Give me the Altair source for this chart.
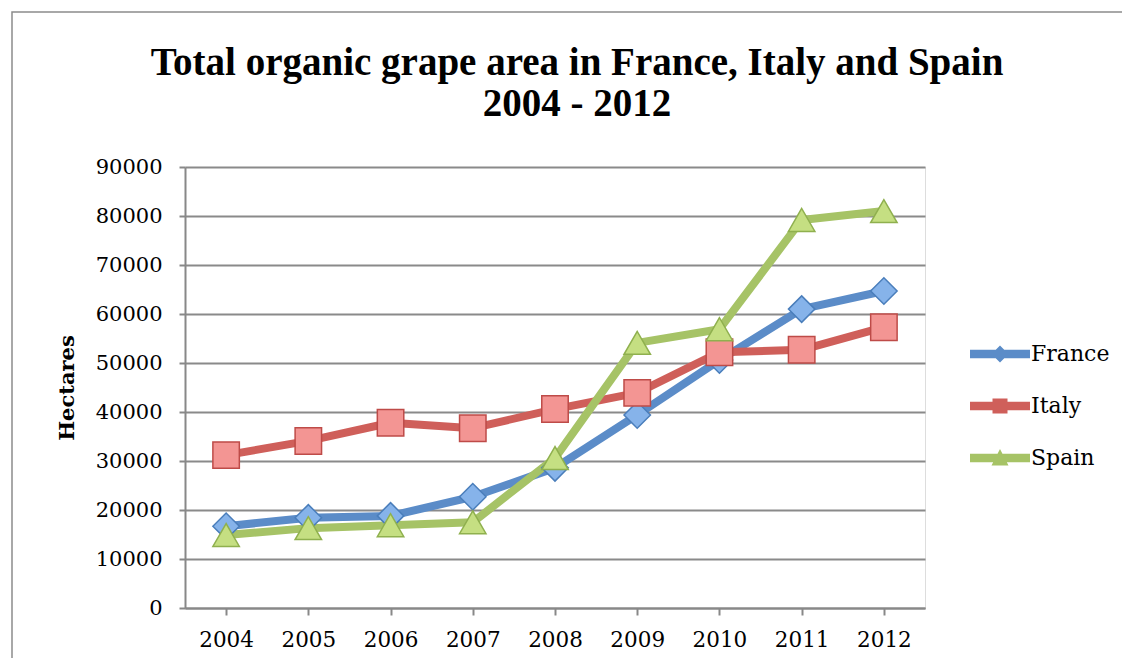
import altair as alt
import pandas as pd

years = ["2004", "2005", "2006", "2007", "2008", "2009", "2010", "2011", "2012"]
france = [16700, 18400, 18800, 22700, 28600, 39400, 50600, 61000, 64700]
italy = [31200, 34100, 37800, 36700, 40600, 43900, 52200, 52700, 57300]
spain = [14900, 16300, 16900, 17500, 30600, 54100, 56900, 79200, 81000]
series = ["France", "Italy", "Spain"]

line_colors = ["#5b8cc8", "#cf5f5a", "#a6c366"]
fill_colors = ["#86b3ea", "#f39593", "#c5df82"]
edge_colors = ["#4a7ebb", "#be4b48", "#8fb04e"]
marker_shapes = ["diamond", "square", "triangle-up"]
legend_shapes = [
    "M-1.2,-0.17 L1.2,-0.17 L1.2,0.17 L-1.2,0.17 Z M0,-0.34 L0.34,0 L0,0.34 L-0.34,0 Z",
    "M-1.2,-0.17 L1.2,-0.17 L1.2,0.17 L-1.2,0.17 Z M-0.3,-0.3 L0.3,-0.3 L0.3,0.3 L-0.3,0.3 Z",
    "M-1.2,-0.17 L1.2,-0.17 L1.2,0.17 L-1.2,0.17 Z M0,-0.36 L0.34,0.3 L-0.34,0.3 Z",
]

rows = []
for name, vals in zip(series, [france, italy, spain]):
    for yr, v in zip(years, vals):
        rows.append({"Year": yr, "Hectares": v, "Country": name})
df = pd.DataFrame(rows)

FONT = "DejaVu Serif"
TFONT = "Liberation Serif"

x = alt.X("Year:N", sort=years, title=None,
          scale=alt.Scale(paddingInner=0, paddingOuter=0),
          axis=alt.Axis(bandPosition=0, labelAngle=0, labelFontSize=21.5, labelFont=FONT,
                        labelColor="#000", tickSize=7, tickColor="#888", tickWidth=2,
                        domainColor="#888", domainWidth=2, labelPadding=14, grid=False))
y = alt.Y("Hectares:Q", title="Hectares",
          scale=alt.Scale(domain=[0, 90000], nice=False),
          axis=alt.Axis(values=list(range(0, 90001, 10000)), format="d",
                        labelFontSize=21, labelFont=FONT, labelColor="#000",
                        tickSize=6, tickColor="#888", tickWidth=2,
                        domainColor="#888", domainWidth=2, labelPadding=17,
                        gridColor="#8a8a8a", gridWidth=2,
                        titleFont=FONT, titleFontSize=21, titleFontWeight="bold",
                        titleColor="#000", titlePadding=18))

base = alt.Chart(df)

lines = base.mark_line(strokeWidth=8, strokeCap="round", strokeJoin="round").encode(
    x=x, y=y,
    color=alt.Color("Country:N", scale=alt.Scale(domain=series, range=line_colors), legend=None),
)

points = base.mark_point(filled=True, size=700, strokeWidth=1.5, opacity=1).encode(
    x=x, y=y,
    shape=alt.Shape("Country:N", scale=alt.Scale(domain=series, range=marker_shapes), legend=None),
    fill=alt.Fill("Country:N", scale=alt.Scale(domain=series, range=fill_colors), legend=None),
    stroke=alt.Stroke("Country:N", scale=alt.Scale(domain=series, range=edge_colors), legend=None),
)

leg = alt.Legend(title=None, orient="none", legendX=790, legendY=162,
                 symbolSize=2500, symbolStrokeWidth=0, symbolOpacity=1,
                 labelFont=FONT, labelFontSize=22, labelColor="#000",
                 labelOffset=6, rowPadding=16, padding=0)

legend_layer = base.mark_point(filled=True).encode(
    x=x, y=y,
    color=alt.Color("Country:N", scale=alt.Scale(domain=series, range=line_colors), legend=leg),
    shape=alt.Shape("Country:N", scale=alt.Scale(domain=series, range=legend_shapes), legend=leg),
).transform_filter("false")

frame = alt.Chart(pd.DataFrame({"a": [0]})).mark_rect(
    fill=None, stroke="#8c8c8c", strokeWidth=1.5
).encode(x=alt.value(-173), x2=alt.value(943), y=alt.value(-155), y2=alt.value(530))

chart = alt.layer(frame, lines, points, legend_layer).resolve_scale(
    shape="independent", color="independent", fill="independent", stroke="independent"
).properties(
    width=740, height=441,
    title=alt.Title(["Total organic grape area in France, Italy and Spain", "2004 - 2012"],
                    font=TFONT, fontSize=39, fontWeight="bold", color="#000",
                    anchor="middle", dx=22, offset=-113, lineHeight=41),
    padding={"left": 177, "top": 159, "right": 197, "bottom": 50},
    autosize=alt.AutoSizeParams(type="none"),
).configure_view(stroke=None).configure(background="white")

chart.save("out.html", embed_options={"renderer": "svg", "actions": False})
